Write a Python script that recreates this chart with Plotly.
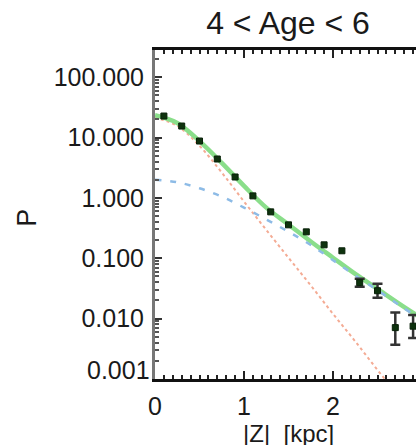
import plotly.graph_objects as go

# Vertical density profile of stars with 4 < Age < 6 Gyr
z_bins = [0.1, 0.3, 0.5, 0.7, 0.9, 1.1, 1.3, 1.5, 1.7, 1.9, 2.1, 2.3, 2.5, 2.7, 2.9]
p_obs = [22.7, 15.5, 8.75, 4.41, 2.22, 1.08, 0.587, 0.358, 0.274, 0.167,
         0.133, 0.0394, 0.029, 0.0071, 0.0075]
# error bars are drawn only from this bin on; earlier ones are hidden by the marker
first_err = 11
p_err_hi = [0.0064, 0.0088, 0.0055, 0.0040]
p_err_lo = [0.0055, 0.0068, 0.0034, 0.0027]

# Fitted model curves sampled along |Z|
z_model = [0.0, 0.25, 0.5, 0.75, 1.0, 1.25, 1.5, 1.75, 2.0, 2.25, 2.5, 2.75, 3.0]
p_total = [23.4, 17.4, 8.71, 3.80, 1.58, 0.69, 0.363, 0.19, 0.102, 0.055, 0.031, 0.0174, 0.0100]
p_thick = [2.00, 1.82, 1.445, 1.05, 0.69, 0.44, 0.275, 0.166, 0.093, 0.052, 0.0295, 0.0166, 0.0095]
p_thin = [21.4, 15.6, 7.27, 2.63, 0.87, 0.295, 0.102, 0.0355, 0.0120, 0.0042, 0.00141, 0.0005, 0.00017]

y_tick_vals = [0.001, 0.01, 0.1, 1, 10, 100]
y_tick_text = ["", "0.010", "0.100", "1.000", "10.000", "100.000"]
y_minor_vals = [m * 10.0 ** e for e in range(-3, 3) for m in range(2, 10)]
x_tick_vals = [0, 1, 2, 3]
x_tick_text = ["0", "1", "2", "3"]

FONT = "Liberation Sans, Arial, Helvetica, sans-serif"
TXT = "#1a1a1a"
MARKER = dict(symbol="square", size=6, color="#0e320e", line=dict(color="#082008", width=1))

fig = go.Figure()

fig.add_trace(go.Scatter(
    x=z_model, y=p_thin, mode="lines", line_shape="spline",
    line=dict(color="#f4ab94", width=2, dash="dot"), name="thin", showlegend=False))
fig.add_trace(go.Scatter(
    x=z_model, y=p_total, mode="lines", line_shape="spline",
    line=dict(color="#8ade8a", width=4.5), name="total", showlegend=False))
fig.add_trace(go.Scatter(
    x=z_model, y=p_thick, mode="lines", line_shape="spline",
    line=dict(color="#8dbbe6", width=2.5, dash="6px,9px"), name="thick", showlegend=False))
fig.add_trace(go.Scatter(
    x=z_bins[:first_err], y=p_obs[:first_err], mode="markers",
    marker=MARKER, name="data", showlegend=False))
fig.add_trace(go.Scatter(
    x=z_bins[first_err:], y=p_obs[first_err:], mode="markers",
    marker=MARKER,
    error_y=dict(type="data", array=p_err_hi, arrayminus=p_err_lo,
                 color="#333333", thickness=2.5, width=5),
    name="data (tail)", showlegend=False))

fig.update_layout(
    width=416, height=445,
    margin=dict(l=155, r=0, t=50, b=66),
    paper_bgcolor="white", plot_bgcolor="white",
    font=dict(family=FONT, size=25, color=TXT),
    title=dict(text="4 < Age < 6", x=288 / 416, xanchor="center", xref="container",
               y=1 - 23 / 445, yanchor="middle", yref="container",
               font=dict(family=FONT, size=32, color=TXT)),
    xaxis=dict(range=[0, 261 / 89], tickvals=x_tick_vals, ticktext=x_tick_text,
               ticks="inside", ticklen=8, tickwidth=1.5, tickcolor="#222",
               minor=dict(dtick=0.1, ticks="inside", ticklen=4, tickcolor="#222", tickwidth=1.5),
               showline=True, linecolor="#111", linewidth=2.5, mirror="ticks",
               showgrid=False, zeroline=False, ticklabelstandoff=3,
               tickfont=dict(family=FONT, size=25, color=TXT)),
    yaxis=dict(type="log", range=[-3, 2.45], tickvals=y_tick_vals, ticktext=y_tick_text,
               ticks="inside", ticklen=7, tickwidth=2, tickcolor="#333",
               minor=dict(tickmode="array", tickvals=y_minor_vals, ticks="inside",
                          ticklen=4, tickcolor="#555", tickwidth=1.5, showgrid=False),
               showline=True, linecolor="#777", linewidth=3, mirror=False,
               showgrid=False, zeroline=False, ticklabelstandoff=3,
               tickfont=dict(family=FONT, size=25, color=TXT)),
)

# bottom tick label sits a little above the axis corner
fig.add_annotation(text="0.001", xref="paper", yref="y", x=0, y=-3,
                   xanchor="right", yanchor="middle", xshift=-3, yshift=9,
                   showarrow=False, font=dict(family=FONT, size=25, color=TXT))
fig.add_annotation(text="|Z|  [kpc]", xref="paper", yref="paper",
                   x=(288 - 155) / 261, y=0, xanchor="center", yanchor="top",
                   yshift=-39, showarrow=False,
                   font=dict(family=FONT, size=24, color=TXT))
fig.add_annotation(text="P", textangle=-90, xref="paper", yref="paper",
                   x=(27 - 155) / 261, y=0.49, xanchor="center", yanchor="middle",
                   showarrow=False, font=dict(family=FONT, size=27, color=TXT))

fig.write_html("out.html")
